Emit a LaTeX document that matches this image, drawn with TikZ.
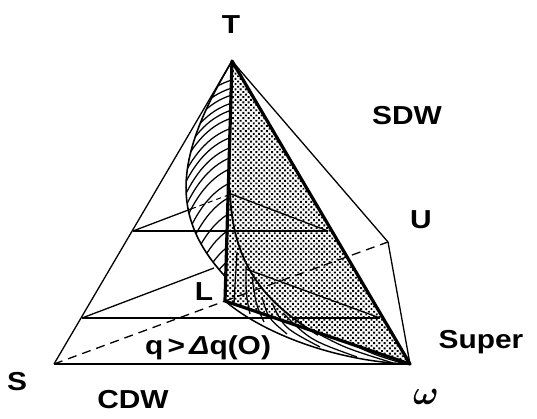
\documentclass[tikz,border=0pt]{standalone}
\usepackage{fontspec}
\usetikzlibrary{patterns.meta}
\newfontfamily\lblfont[FakeStretch=1.15]{Liberation Sans}
\begin{document}
\begin{tikzpicture}[
    x=1pt, y=-1pt,
    lbl/.style={font=\lblfont\bfseries\fontsize{26}{26}\selectfont, inner sep=0pt},
    edge/.style={line width=1.3pt},
    heavy/.style={line width=3.2pt, line cap=round, line join=round},
    hatch/.style={line width=1.25pt},
    back/.style={line width=1.3pt, dash pattern=on 9pt off 6pt}
]
  \useasboundingbox (0,0) rectangle (537,419);

  % Corners of the phase diagram
  \coordinate (T) at (232,61);
  \coordinate (S) at (54,364);
  \coordinate (W) at (410,364);
  \coordinate (L) at (225,301);
  \coordinate (U) at (388,242);
  \coordinate (K) at (225.7,277);

  % Stippled sheet
  \fill[pattern={Dots[radius=1.35pt, distance=3.7pt, angle=45]}] (T) -- (W) -- (L) -- cycle;

  % Hatching of the left lens
  \begin{scope}
    \clip (T) .. controls (176,155) and (168,215) .. (K) -- cycle;
    \foreach \hy in {80,88,95,103,110,118,128,137,147,157,168,182,196,212,228,244,258,272} {
      \pgfmathsetmacro{\st}{1+1.4*((\hy-70)/200)^2}
      \draw[hatch] (232,\hy) .. controls (208,\hy+7*\st) and (190,\hy+26*\st) .. (176,\hy+58*\st);
    }
  \end{scope}
  \draw[line width=1.6pt] (T) .. controls (176,155) and (168,215) .. (K);

  % Fan between the two lower curves
  \foreach \ax/\ay/\bx/\by/\cx/\cy in {237/252/235/285/234/304, 246/268/246/295/250/314,
      252/277/256/305/264/322, 262/297/268/318/287/334, 272/303/284/328/320/347,
      283/313/310/340/357/357, 313/331/345/348/393/363, 345/341/375/355/405/364} {
    \draw[hatch] (\ax,\ay) .. controls (\bx,\by) .. (\cx,\cy);
  }
  \draw[line width=1.8pt] (230,190) .. controls (232,270) and (270,305) .. (318,335);
  \draw[line width=1.5pt] (L) .. controls (265,335) and (340,362) .. (W);

  % Upper cut
  \coordinate (A1) at (133,231);
  \coordinate (A2) at (191,209);
  \coordinate (A3) at (231,194);
  \coordinate (A4) at (328,231);
  \draw[edge] (A1) -- (A4);
  \draw[edge] (A1) -- (A2);
  \draw[line width=1pt, dash pattern=on 5pt off 4pt] (A2) -- (A3);
  \draw[edge] (A3) -- (A4);

  % Lower cut
  \coordinate (B1) at (82,318);
  \coordinate (B2) at (214,268);
  \coordinate (B3) at (246,269);
  \coordinate (B4) at (380,318);
  \coordinate (B5) at (272,318);
  \coordinate (B6) at (292,318);
  \draw[edge] (B1) -- (B5);
  \draw[edge] (B6) -- (B4);
  \draw[edge] (B1) -- (B2);
  \draw[edge] (B3) -- (B4);

  % Outer frame
  \draw[edge] (T) -- (S);
  \draw[edge] (S) -- (W);
  \draw[edge, line join=miter] (T) -- (U) -- (W);
  \draw[back] (S) -- (L);
  \draw[back] (L) -- (U);

  % Heavy edges
  \draw[heavy] (T) -- (L) -- (W) -- cycle;

  % Labels
  \node[lbl] (tlabel) at (231,25) {T};
  \node[lbl] (sdw) at (407,116) {SDW};
  \node[lbl] (ulabel) at (421,220) {U};
  \node[lbl] (super) at (481,342) {Super};
  \node[lbl] (llabel) at (204,292) {L};
  \node[lbl] (gap) at (208,348) {q\,>\,{\itshape Δ}q(O)};
  \node[lbl] (slabel) at (17,382) {S};
  \node[lbl] (cdw) at (133,400) {CDW};
  \node[inner sep=0pt, scale=3.4, font=\boldmath] (omega) at (426,397) {$\omega$};
\end{tikzpicture}
\end{document}
